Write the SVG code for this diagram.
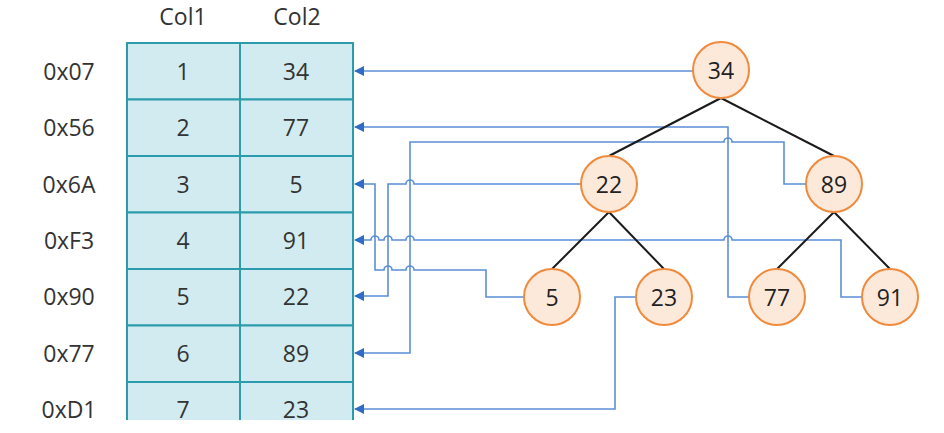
<svg xmlns="http://www.w3.org/2000/svg" width="944" height="433" viewBox="0 0 944 433">
<defs>
<style>
.lbl{font-family:"Open Sans","Noto Sans","Liberation Sans",sans-serif;font-size:23px;fill:#333;text-anchor:middle;dominant-baseline:central}
.cell{fill:#d2ebf0;stroke:#2a9cab;stroke-width:2}
.conn{fill:none;stroke:#5b8fd6;stroke-width:1.6}
.edge{stroke:#1a1a1a;stroke-width:2}
.node circle{fill:#fde9da;stroke:#f08a3c;stroke-width:2}
.nt{font-family:"Open Sans","Noto Sans","Liberation Sans",sans-serif;font-size:23px;fill:#222;text-anchor:middle;dominant-baseline:central}
</style>
<marker id="arr" viewBox="0 0 10 10" refX="9" refY="5" markerWidth="10" markerHeight="10" markerUnits="userSpaceOnUse" orient="auto">
<path d="M0,0 L10,5 L0,10 Z" fill="#2f6cc4"/>
</marker>
</defs>
<rect width="944" height="433" fill="#fff"/>

<g id="header">
<text class="lbl" x="183" y="16">Col1</text>
<text class="lbl" x="297" y="16">Col2</text>
</g>

<g id="table">
<rect class="cell" x="127" y="43" width="113" height="56.5"/><rect class="cell" x="240" y="43" width="113" height="56.5"/>
<rect class="cell" x="127" y="99.5" width="113" height="56.5"/><rect class="cell" x="240" y="99.5" width="113" height="56.5"/>
<rect class="cell" x="127" y="156" width="113" height="56.5"/><rect class="cell" x="240" y="156" width="113" height="56.5"/>
<rect class="cell" x="127" y="212.5" width="113" height="56.5"/><rect class="cell" x="240" y="212.5" width="113" height="56.5"/>
<rect class="cell" x="127" y="269" width="113" height="56.5"/><rect class="cell" x="240" y="269" width="113" height="56.5"/>
<rect class="cell" x="127" y="325.5" width="113" height="56.5"/><rect class="cell" x="240" y="325.5" width="113" height="56.5"/>
<rect class="cell" x="127" y="382" width="113" height="56.5"/><rect class="cell" x="240" y="382" width="113" height="56.5"/>
<rect x="120" y="420" width="240" height="20" fill="#fff"/>
</g>

<g id="rows">
<text class="lbl" x="69" y="71">0x07</text><text class="lbl" x="183" y="71">1</text><text class="lbl" x="296" y="71">34</text>
<text class="lbl" x="69" y="127">0x56</text><text class="lbl" x="183" y="127">2</text><text class="lbl" x="296" y="127">77</text>
<text class="lbl" x="69" y="184">0x6A</text><text class="lbl" x="183" y="184">3</text><text class="lbl" x="296" y="184">5</text>
<text class="lbl" x="69" y="240">0xF3</text><text class="lbl" x="183" y="240">4</text><text class="lbl" x="296" y="240">91</text>
<text class="lbl" x="69" y="296">0x90</text><text class="lbl" x="183" y="296">5</text><text class="lbl" x="296" y="296">22</text>
<text class="lbl" x="69" y="353">0x77</text><text class="lbl" x="183" y="353">6</text><text class="lbl" x="296" y="353">89</text>
<text class="lbl" x="69" y="409">0xD1</text><text class="lbl" x="183" y="409">7</text><text class="lbl" x="296" y="409">23</text>
</g>

<g id="connectors">
<path class="conn" marker-end="url(#arr)" d="M693,71 H355"/>
<path class="conn" marker-end="url(#arr)" d="M749,297 H728 V127 H355"/>
<path class="conn" marker-end="url(#arr)" d="M806,184 H784 V142 H732 A4,4 0 0 0 724,142 H410 V353 H355"/>
<path class="conn" marker-end="url(#arr)" d="M581,184 H414 A4,4 0 0 0 406,184 H388 V296 H355"/>
<path class="conn" marker-end="url(#arr)" d="M524,297 H486 V270 H414 A4,4 0 0 0 406,270 H392 A4,4 0 0 0 384,270 H375 V184 H355"/>
<path class="conn" marker-end="url(#arr)" d="M862,297 H841 V240 H732 A4,4 0 0 0 724,240 H414 A4,4 0 0 0 406,240 H392 A4,4 0 0 0 384,240 H379 A4,4 0 0 0 371,240 H355"/>
<path class="conn" marker-end="url(#arr)" d="M636,297 H615 V409 H355"/>
</g>

<g id="edges">
<line class="edge" x1="721" y1="98" x2="609" y2="156"/>
<line class="edge" x1="721" y1="98" x2="834" y2="156"/>
<line class="edge" x1="609" y1="212" x2="552" y2="269"/>
<line class="edge" x1="609" y1="212" x2="664" y2="269"/>
<line class="edge" x1="834" y1="212" x2="777" y2="269"/>
<line class="edge" x1="834" y1="212" x2="890" y2="269"/>
</g>

<g id="n34" class="node"><circle cx="721" cy="70" r="28"/><text class="nt" x="721" y="70">34</text></g>
<g id="n22" class="node"><circle cx="609" cy="184" r="28"/><text class="nt" x="609" y="184">22</text></g>
<g id="n89" class="node"><circle cx="834" cy="184" r="28"/><text class="nt" x="834" y="184">89</text></g>
<g id="n5" class="node"><circle cx="552" cy="297" r="28"/><text class="nt" x="552" y="297">5</text></g>
<g id="n23" class="node"><circle cx="664" cy="297" r="28"/><text class="nt" x="664" y="297">23</text></g>
<g id="n77" class="node"><circle cx="777" cy="297" r="28"/><text class="nt" x="777" y="297">77</text></g>
<g id="n91" class="node"><circle cx="890" cy="297" r="28"/><text class="nt" x="890" y="297">91</text></g>
</svg>
